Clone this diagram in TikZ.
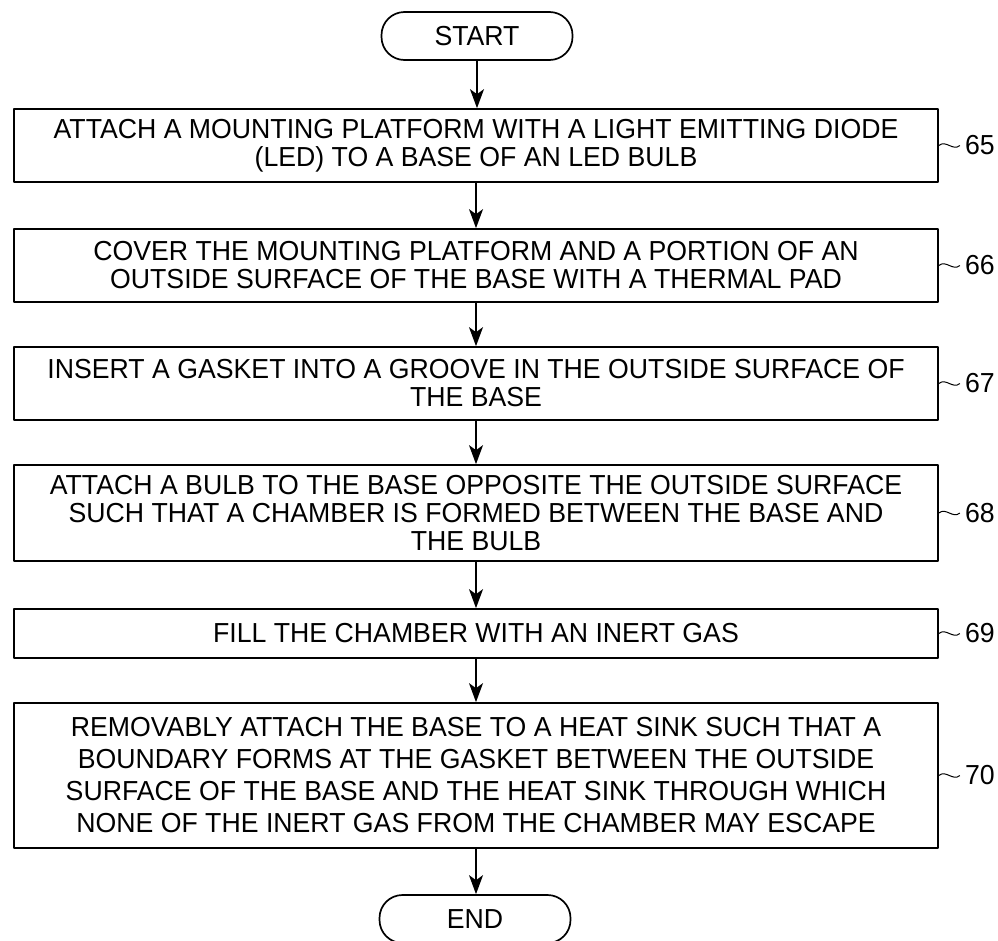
\documentclass[tikz,border=0pt]{standalone}
\usepackage{fontspec}
\setmainfont[FakeStretch=0.97]{Liberation Sans}
\usetikzlibrary{arrows.meta}

\tikzset{
  stepbox/.style={draw, line width=1.7pt, minimum width=924pt, align=center,
    inner sep=0pt, font=\fontsize{27.5}{28}\selectfont},
  termbox/.style={draw, line width=1.7pt, rounded corners=23pt, minimum width=191pt,
    minimum height=48pt, font=\fontsize{27.5}{28}\selectfont},
  flow/.style={-{Stealth[length=19pt,width=14pt,inset=5pt]}, line width=1.4pt},
  tag/.style={anchor=west, inner sep=0pt, font=\fontsize{27.5}{28}\selectfont},
}

\begin{document}
\begin{tikzpicture}[x=1pt, y=-1pt, line join=round]
	\clip (0,0) rectangle (998,940);
	% terminals
	\node[termbox] (start) at (477,36) {START};
	\node[termbox] (end) at (475,919) {END};
	% steps
	\node[stepbox, minimum height=73pt] (s65) at (476,145.5)
		{ATTACH A MOUNTING PLATFORM WITH A LIGHT EMITTING DIODE\\(LED) TO A BASE OF AN LED BULB};
	\node[stepbox, minimum height=73pt] (s66) at (476,265.5)
		{COVER THE MOUNTING PLATFORM AND A PORTION OF AN\\OUTSIDE SURFACE OF THE BASE WITH A THERMAL PAD};
	\node[stepbox, minimum height=73pt] (s67) at (476,383.5)
		{INSERT A GASKET INTO A GROOVE IN THE OUTSIDE SURFACE OF\\THE BASE};
	\node[stepbox, minimum height=96pt] (s68) at (476,513)
		{ATTACH A BULB TO THE BASE OPPOSITE THE OUTSIDE SURFACE\\SUCH THAT A CHAMBER IS FORMED BETWEEN THE BASE AND\\THE BULB};
	\node[stepbox, minimum height=49pt] (s69) at (476,633.5)
		{FILL THE CHAMBER WITH AN INERT GAS};
	\node[stepbox, minimum height=145pt, font=\fontsize{27.5}{32}\selectfont] (s70) at (476,775.5)
		{REMOVABLY ATTACH THE BASE TO A HEAT SINK SUCH THAT A\\BOUNDARY FORMS AT THE GASKET BETWEEN THE OUTSIDE\\SURFACE OF THE BASE AND THE HEAT SINK THROUGH WHICH\\NONE OF THE INERT GAS FROM THE CHAMBER MAY ESCAPE};
	% arrows
	\foreach \a/\b in {start/s65,s65/s66,s66/s67,s67/s68,s68/s69,s69/s70,s70/end}
	\draw[flow] (\a.south) -- (\a.south |- \b.north);
	% reference numerals
	\foreach \n in {65,...,70}{
		\node[tag] (t\n) at ([xshift=26pt]s\n.east) {\n};
		\draw[line width=1pt] (s\n.east) .. controls +(7,-6) and +(-7,6) .. ([xshift=-5pt]t\n.west);
	}
\end{tikzpicture}
\end{document}
